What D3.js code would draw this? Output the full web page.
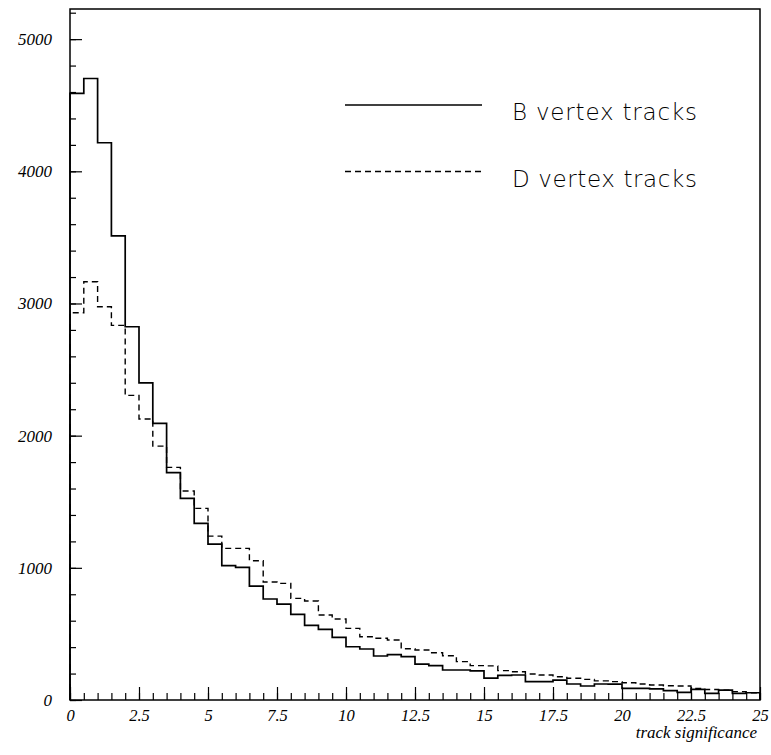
<!DOCTYPE html>
<html><head><meta charset="utf-8">
<script src="https://cdn.jsdelivr.net/npm/d3@7"></script>
<style>body{margin:0;background:#fff}svg{display:block}</style>
</head><body>
<svg id="c" width="771" height="755"></svg>
<script>
// bin lower edges: 0, 0.5, ..., 24.5 (width 0.5)
const binWidth = 0.5;
const binStarts = d3.range(0, 25, binWidth);
const bVertex = [4590,4702,4216,3512,2824,2400,2093,1720,1526,1336,
  1180,1016,1004,862,764,726,648,565,535,474,
  403,386,333,343,328,272,260,227,227,220,
  166,187,189,139,139,151,121,106,121,120,
  88,88,84,71,58,80,50,75,50,55];
const dVertex = [2930,3164,2975,2834,2305,2126,1921,1760,1581,1450,
  1240,1147,1147,1054,893,882,769,749,643,613,
  542,479,467,454,388,378,358,335,290,260,
  258,222,214,197,189,176,164,156,145,139,
  131,121,113,108,106,88,80,75,63,55];
const xMajorTicks = [0,2.5,5,7.5,10,12.5,15,17.5,20,22.5,25];
const xTickLabels = ["0","2.5","5","7.5","10","12.5","15","17.5","20","22.5","25"];
const yMajorTicks = [0,1000,2000,3000,4000,5000];
const yTickLabels = ["0","1000","2000","3000","4000","5000"];
const legendLabels = ["B vertex tracks","D vertex tracks"];
const xTitle = "track significance";

const svg = d3.select("#c");
const x = d3.scaleLinear().domain([0,25]).range([70,760]);
const y = d3.scaleLinear().domain([0,5228]).range([700,9]);

const serif = "'Liberation Serif','Times New Roman',serif";

// minor ticks
const xMinor = d3.range(0, 25.001, 0.5);
svg.append("g").attr("transform","translate(0,700)")
  .call(d3.axisBottom(x).tickValues(xMinor).tickSize(-7).tickFormat(""))
  .call(g=>g.select(".domain").remove())
  .call(g=>g.selectAll("line").attr("stroke","#000").attr("stroke-width",1.2));
svg.append("g").attr("transform","translate(0,700)")
  .call(d3.axisBottom(x).tickValues(xMajorTicks).tickSize(-13).tickPadding(9)
    .tickFormat((d,i)=>xTickLabels[i]))
  .call(g=>g.select(".domain").remove())
  .call(g=>g.selectAll("line").attr("stroke","#000").attr("stroke-width",1.2))
  .call(g=>g.selectAll("text").attr("font-family",serif).attr("font-style","italic")
    .attr("font-size",16.5).attr("fill","#000"));

const yMinor = d3.range(0, 5201, 200);
svg.append("g").attr("transform","translate(70,0)")
  .call(d3.axisLeft(y).tickValues(yMinor).tickSize(-6).tickFormat(""))
  .call(g=>g.select(".domain").remove())
  .call(g=>g.selectAll("line").attr("stroke","#000").attr("stroke-width",1.2));
svg.append("g").attr("transform","translate(70,0)")
  .call(d3.axisLeft(y).tickValues(yMajorTicks).tickSize(-12).tickPadding(18)
    .tickFormat((d,i)=>yTickLabels[i]))
  .call(g=>g.select(".domain").remove())
  .call(g=>g.selectAll("line").attr("stroke","#000").attr("stroke-width",1.2))
  .call(g=>g.selectAll("text").attr("font-family",serif).attr("font-style","italic")
    .attr("font-size",17).attr("fill","#000"));

// frame
svg.append("rect").attr("x",x(0)).attr("y",y.range()[1])
  .attr("width",x(25)-x(0)).attr("height",y(0)-y.range()[1])
  .attr("fill","none").attr("stroke","#000").attr("stroke-width",1.5);

function histPath(vals){
  const pts = [[x(0), y(0)]];
  vals.forEach((v,i)=>{
    pts.push([x(binStarts[i]), y(v)]);
    pts.push([x(binStarts[i]+binWidth), y(v)]);
  });
  pts.push([x(25), y(0)]);
  return d3.line()(pts);
}
svg.append("path").attr("d",histPath(dVertex)).attr("fill","none")
  .attr("stroke","#000").attr("stroke-width",1.4).attr("stroke-dasharray","6,4");
svg.append("path").attr("d",histPath(bVertex)).attr("fill","none")
  .attr("stroke","#000").attr("stroke-width",1.7);

// legend
const leg = svg.append("g");
[[105,null],[171.5,"6,4"]].forEach((s,i)=>{
  leg.append("line").attr("x1",345).attr("x2",482).attr("y1",s[0]).attr("y2",s[0])
    .attr("stroke","#000").attr("stroke-width",1.5).attr("stroke-dasharray",s[1]);
  leg.append("text").attr("x",512).attr("y",s[0]+15).text(legendLabels[i])
    .attr("font-family","'DejaVu Sans',sans-serif").attr("font-weight",200)
    .attr("font-size",23).attr("fill","#000")
    .attr("textLength",185).attr("lengthAdjust","spacing");
});

// axis title
svg.append("text").attr("x",757).attr("y",738).attr("text-anchor","end")
  .attr("font-family",serif).attr("font-style","italic").attr("font-size",17)
  .attr("fill","#000").text(xTitle);
</script>
</body></html>
